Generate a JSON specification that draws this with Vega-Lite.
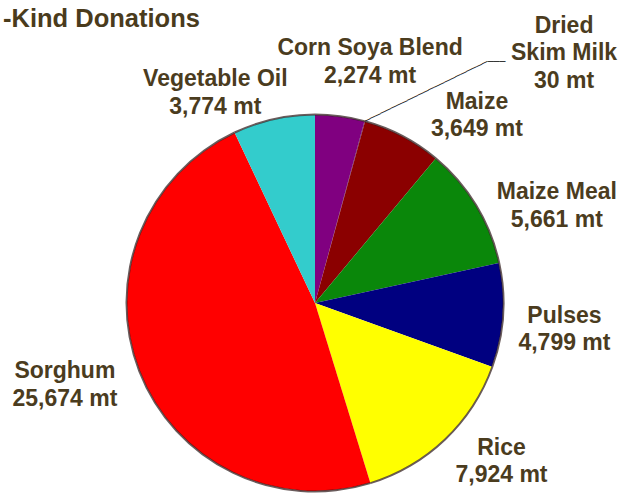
{
  "$schema": "https://vega.github.io/schema/vega-lite/v6.json",
  "width": 618,
  "height": 366,
  "autosize": {"type": "none"},
  "padding": {"left": 6, "top": 120, "right": 0, "bottom": 7},
  "background": "white",
  "title": {
    "text": "-Kind Donations",
    "anchor": "start",
    "frame": "group",
    "font": "Liberation Sans",
    "fontSize": 25.5,
    "fontWeight": "bold",
    "color": "#4a3b1c",
    "baseline": "alphabetic",
    "offset": -38,
    "dx": -3
  },
  "config": {
    "view": {"stroke": null},
    "text": {
      "font": "Liberation Sans",
      "fontWeight": "bold",
      "fontSize": 23,
      "lineHeight": 27.5,
      "lineBreak": "\n",
      "color": "#4b3c1e",
      "align": "center",
      "baseline": "middle"
    }
  },
  "data": {
    "values": [
      {"food": "Corn Soya Blend", "mt": 2274},
      {"food": "Dried Skim Milk", "mt": 30},
      {"food": "Maize", "mt": 3649},
      {"food": "Maize Meal", "mt": 5661},
      {"food": "Pulses", "mt": 4799},
      {"food": "Rice", "mt": 7924},
      {"food": "Sorghum", "mt": 25674},
      {"food": "Vegetable Oil", "mt": 3774}
    ]
  },
  "transform": [
    {"stack": "mt", "groupby": [], "sort": [{"field": "food", "order": "ascending"}], "as": ["s0", "s1"]},
    {"calculate": "(datum.s0 + datum.s1) / 2", "as": "mid"},
    {"calculate": "(datum.food == 'Dried Skim Milk' ? 'Dried\\nSkim Milk' : datum.food) + '\\n' + format(datum.mt, ',') + ' mt'", "as": "label"}
  ],
  "layer": [
    {
      "mark": {"type": "arc"},
      "encoding": {
        "theta": {"field": "s0", "type": "quantitative", "scale": {"type": "linear", "domain": [0, 53785], "zero": true, "nice": false}},
        "theta2": {"field": "s1"},
        "radius": {"value": 188},
        "color": {
          "field": "food",
          "type": "nominal",
          "scale": {
            "domain": ["Corn Soya Blend", "Dried Skim Milk", "Maize", "Maize Meal", "Pulses", "Rice", "Sorghum", "Vegetable Oil"],
            "range": ["#800080", "#5a0a5a", "#8b0000", "#0a870a", "#000080", "#ffff00", "#ff0000", "#33cccc"]
          },
          "legend": null
        }
      }
    },
    {
      "mark": {"type": "arc", "fill": "#2a1515", "opacity": 0.7},
      "encoding": {
        "theta": {"field": "s0", "type": "quantitative"},
        "theta2": {"field": "s1"},
        "radius": {"value": 189.5},
        "radius2": {"value": 187.5}
      }
    },
    {
      "transform": [{"filter": "datum.food == 'Dried Skim Milk'"}],
      "mark": {"type": "text", "text": "───────────────────────", "font": "DejaVu Sans Mono", "fontWeight": "normal", "fontSize": 9.9, "color": "#1a1a1a", "align": "left", "baseline": "middle", "angle": -26},
      "encoding": {
        "theta": {"field": "mid", "type": "quantitative"},
        "radius": {"value": 188}
      }
    },
    {
      "transform": [{"filter": "datum.food == 'Dried Skim Milk'"}],
      "mark": {"type": "text", "text": "───", "font": "DejaVu Sans Mono", "fontWeight": "normal", "fontSize": 9.9, "color": "#1a1a1a", "align": "left", "baseline": "middle", "dx": 123, "dy": -60},
      "encoding": {
        "theta": {"field": "mid", "type": "quantitative"},
        "radius": {"value": 188}
      }
    },
    {
      "transform": [{"filter": "datum.food == 'Corn Soya Blend'"}],
      "mark": {"type": "text", "dx": 22, "dy": -7},
      "encoding": {"theta": {"field": "mid", "type": "quantitative"}, "radius": {"value": 250}, "text": {"field": "label"}}
    },
    {
      "transform": [{"filter": "datum.food == 'Dried Skim Milk'"}],
      "mark": {"type": "text", "dx": 183, "dy": -36},
      "encoding": {"theta": {"field": "mid", "type": "quantitative"}, "radius": {"value": 250}, "text": {"field": "label"}}
    },
    {
      "transform": [{"filter": "datum.food == 'Maize'"}],
      "mark": {"type": "text", "dx": 46, "dy": 20},
      "encoding": {"theta": {"field": "mid", "type": "quantitative"}, "radius": {"value": 250}, "text": {"field": "label"}}
    },
    {
      "transform": [{"filter": "datum.food == 'Maize Meal'"}],
      "mark": {"type": "text", "dx": 28, "dy": 19},
      "encoding": {"theta": {"field": "mid", "type": "quantitative"}, "radius": {"value": 250}, "text": {"field": "label"}}
    },
    {
      "transform": [{"filter": "datum.food == 'Pulses'"}],
      "mark": {"type": "text", "dx": 0, "dy": -4},
      "encoding": {"theta": {"field": "mid", "type": "quantitative"}, "radius": {"value": 250}, "text": {"field": "label"}}
    },
    {
      "transform": [{"filter": "datum.food == 'Rice'"}],
      "mark": {"type": "text", "dx": 14, "dy": -36},
      "encoding": {"theta": {"field": "mid", "type": "quantitative"}, "radius": {"value": 250}, "text": {"field": "label"}}
    },
    {
      "transform": [{"filter": "datum.food == 'Sorghum'"}],
      "mark": {"type": "text", "dx": -17, "dy": -22},
      "encoding": {"theta": {"field": "mid", "type": "quantitative"}, "radius": {"value": 250}, "text": {"field": "label"}}
    },
    {
      "transform": [{"filter": "datum.food == 'Vegetable Oil'"}],
      "mark": {"type": "text", "dx": -45, "dy": 20},
      "encoding": {"theta": {"field": "mid", "type": "quantitative"}, "radius": {"value": 250}, "text": {"field": "label"}}
    }
  ]
}
